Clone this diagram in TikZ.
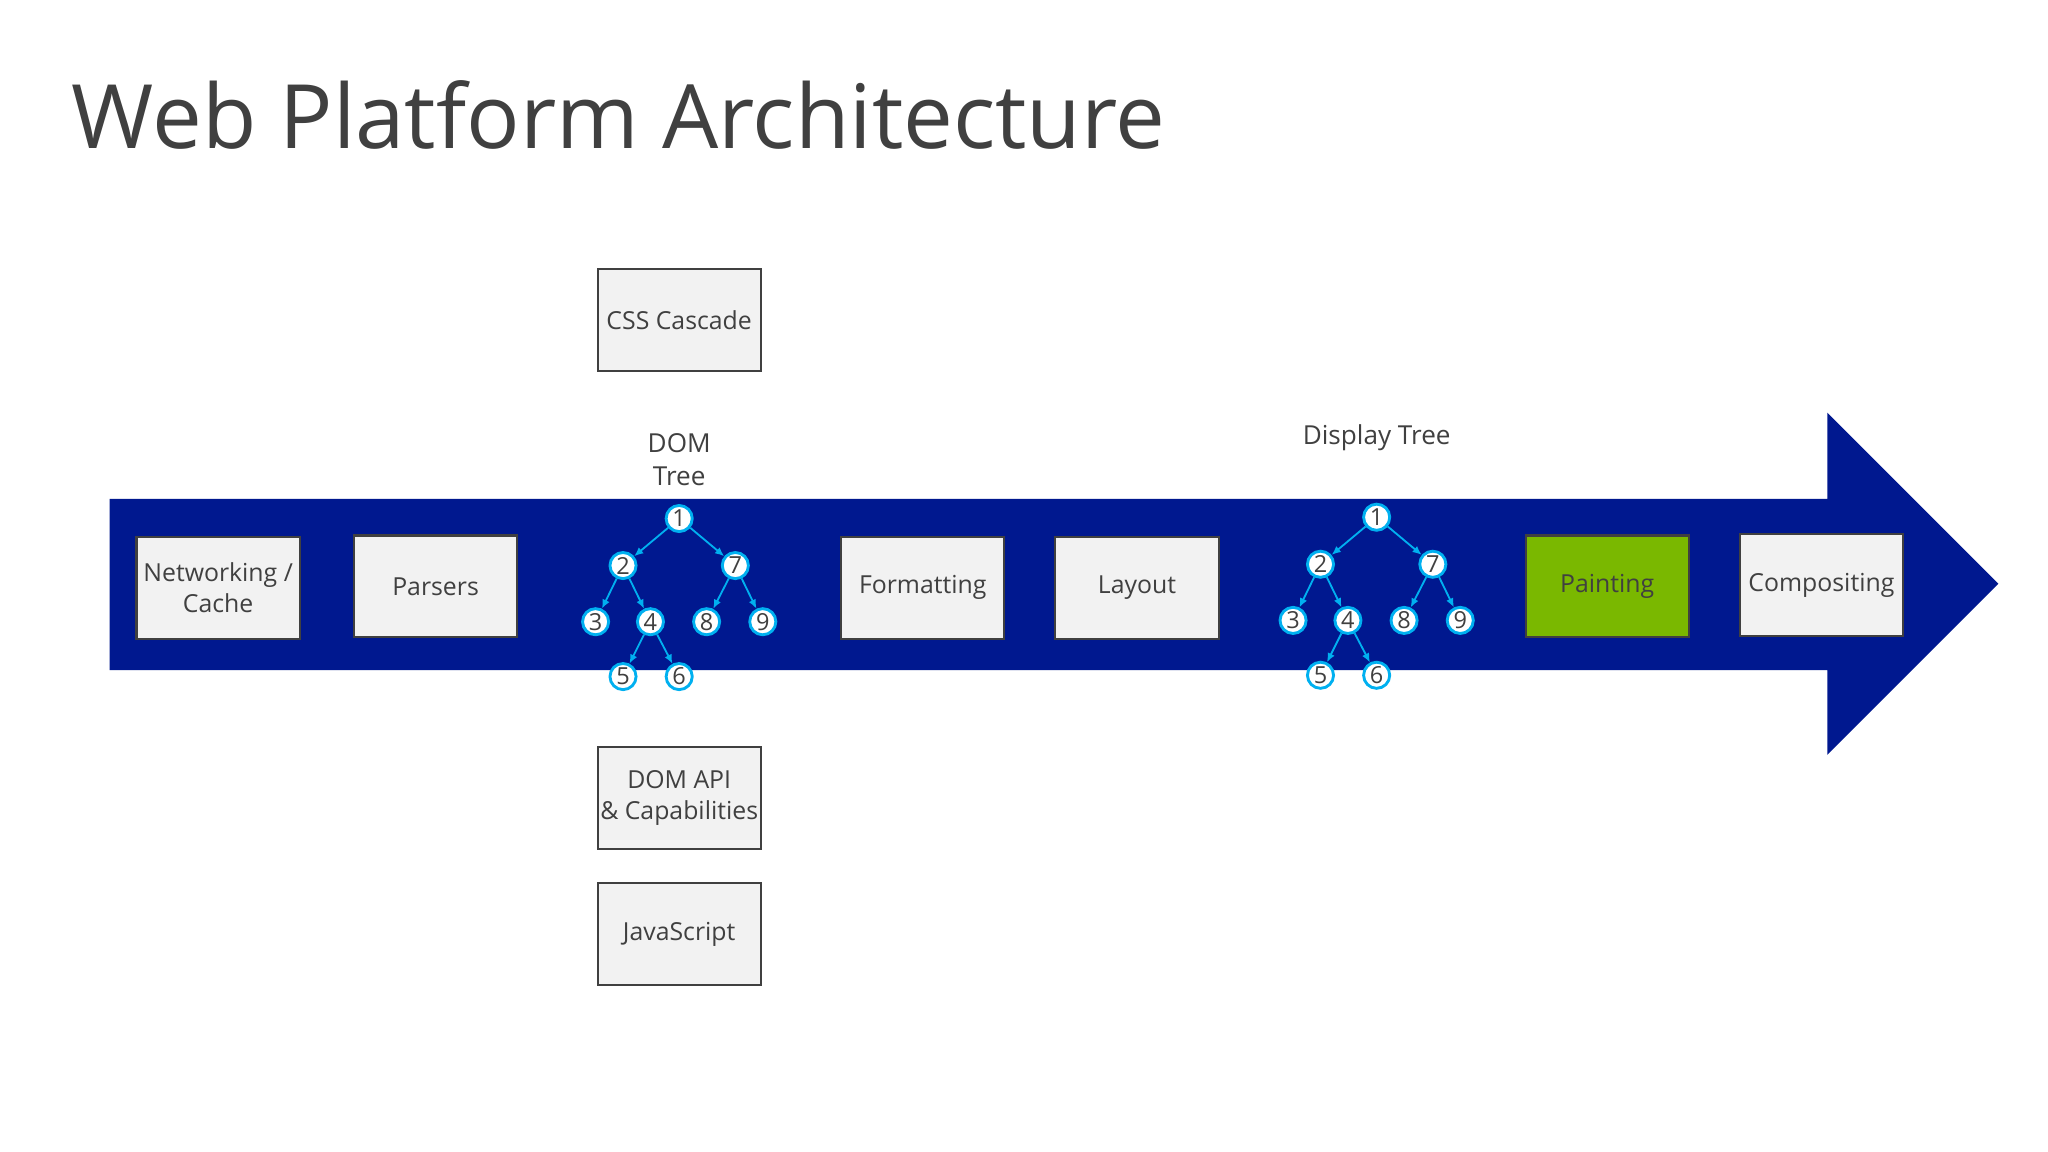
\documentclass[tikz,border=0pt]{standalone}
\usepackage{fontspec}
\setmainfont{Open Sans}
\usetikzlibrary{arrows.meta}
\definecolor{band}{RGB}{0,24,143}
\definecolor{boxf}{RGB}{242,242,242}
\definecolor{boxd}{RGB}{64,64,64}
\definecolor{cy}{RGB}{0,176,240}
\definecolor{grn}{RGB}{122,184,0}
\definecolor{txt}{RGB}{64,64,64}
\begin{document}
\begin{tikzpicture}[x=0.5pt,y=-0.5pt,
 box/.style={draw=boxd,line width=0.8pt,fill=boxf,minimum width=62.5pt,minimum height=39pt,inner sep=1pt,align=center,font=\fontsize{9.5}{12}\selectfont,text=txt},
 tn/.style={circle,draw=cy,line width=1.1pt,fill=white,minimum size=10pt,inner sep=0pt,font=\fontsize{9}{9}\selectfont,text=txt},
 ta/.style={-{Latex[length=3.5pt,width=3pt]},cy,line width=0.7pt},
 lbl/.style={font=\fontsize{10}{12.5}\selectfont,text=txt,align=center}]
\useasboundingbox (0,0) rectangle (1568,882);
\fill[white] (0,0) rectangle (1568,882);
\node[anchor=west,font=\fontsize{34}{40}\selectfont,text=txt] (title) at (48,88) {Web Platform Architecture};
\fill[band] (84,382) -- (1399,382) -- (1399,316) -- (1530,447) -- (1399,578) -- (1399,513) -- (84,513) -- cycle;
\node[box] (net) at (167,450) {Networking /\\Cache};
\node[box] (par) at (333.5,449) {Parsers};
\node[box] (fmt) at (706.5,450) {Formatting};
\node[box] (lay) at (870.5,450) {Layout};
\node[box,fill=grn] (pai) at (1230.5,449) {Painting};
\node[box] (com) at (1394.5,448) {Compositing};
\node[box] (css) at (520,245) {CSS Cascade};
\node[box] (api) at (520,611) {DOM API\\\& Capabilities};
\node[box] (js) at (520,715) {JavaScript};
\node[lbl] (domt) at (520,352) {DOM\\Tree};
\node[lbl] (dispt) at (1054,335) {Display Tree};
\foreach \p/\dx/\dy in {a/0/0,b/534/-1}{
 \begin{scope}[shift={(\dx,\dy)}]
 \node[tn] (\p1) at (520,397) {1};
 \node[tn] (\p2) at (477,433) {2};
 \node[tn] (\p7) at (563,433) {7};
 \node[tn] (\p3) at (456,476) {3};
 \node[tn] (\p4) at (498,476) {4};
 \node[tn] (\p8) at (541,476) {8};
 \node[tn] (\p9) at (584,476) {9};
 \node[tn] (\p5) at (477,518) {5};
 \node[tn] (\p6) at (520,518) {6};
 \end{scope}
 \draw[ta] (\p1) -- (\p2); \draw[ta] (\p1) -- (\p7);
 \draw[ta] (\p2) -- (\p3); \draw[ta] (\p2) -- (\p4);
 \draw[ta] (\p7) -- (\p8); \draw[ta] (\p7) -- (\p9);
 \draw[ta] (\p4) -- (\p5); \draw[ta] (\p4) -- (\p6);
}
\end{tikzpicture}
\end{document}
